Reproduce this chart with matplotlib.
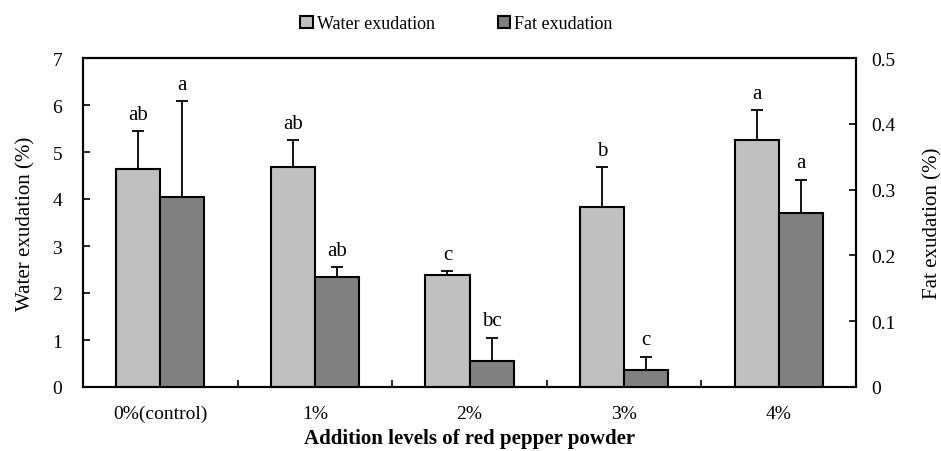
import numpy as np
import matplotlib
matplotlib.use('Agg')
import matplotlib.pyplot as plt
from matplotlib.ticker import FixedLocator

plt.rcParams['font.family'] = ['Liberation Serif', 'DejaVu Serif']

categories = ['0%(control)', '1%', '2%', '3%', '4%']
water = [4.64, 4.68, 2.38, 3.83, 5.26]
water_err = [0.81, 0.58, 0.09, 0.85, 0.63]
water_letters = ['ab', 'ab', 'c', 'b', 'a']
fat = [0.289, 0.167, 0.040, 0.026, 0.264]
fat_err = [0.146, 0.015, 0.035, 0.020, 0.051]
fat_letters = ['a', 'ab', 'bc', 'c', 'a']

fig = plt.figure(figsize=(9.41, 4.52), dpi=100)
ax = fig.add_axes([83 / 941, 1 - 388 / 452, 773 / 941, 329 / 452])
ax2 = ax.twinx()

x = np.arange(len(categories))
w = 0.285
ekw = dict(elinewidth=1.3, capsize=4, capthick=1.3, ecolor='black')

ax.bar(x - w / 2, water, w, color='#c0c0c0', edgecolor='black', linewidth=1.5,
       label='Water exudation', zorder=3)
ax.errorbar(x - w / 2, water, yerr=[np.zeros(5), water_err], fmt='none', zorder=2, **ekw)
ax2.bar(x + w / 2, fat, w, color='#808080', edgecolor='black', linewidth=1.5,
        label='Fat exudation', zorder=3)
ax2.errorbar(x + w / 2, fat, yerr=[np.zeros(5), fat_err], fmt='none', zorder=2, **ekw)

for i in range(len(categories)):
    ax.text(x[i] - w / 2, water[i] + water_err[i] + 0.15, water_letters[i],
            ha='center', va='bottom', fontsize=15)
    ax2.text(x[i] + w / 2, fat[i] + fat_err[i] + 0.011, fat_letters[i],
             ha='center', va='bottom', fontsize=15)

ax.set_xlim(-0.5, len(categories) - 0.5)
ax.set_ylim(0, 7)
ax2.set_ylim(0, 0.5)
ax.set_yticks(range(8))
ax2.set_yticks([0, 0.1, 0.2, 0.3, 0.4, 0.5])
ax2.set_yticklabels(['0', '0.1', '0.2', '0.3', '0.4', '0.5'])

ax.set_xticks(x)
ax.set_xticklabels(categories)
ax.tick_params(axis='x', which='major', length=0, pad=13, labelsize=14)
ax.xaxis.set_minor_locator(FixedLocator(x[:-1] + 0.5))
ax.tick_params(axis='x', which='minor', direction='in', length=5, width=1.2)
ax.tick_params(axis='y', direction='in', length=5, width=1.2, labelsize=14, pad=15)
ax2.tick_params(axis='y', direction='in', length=5, width=1.2, labelsize=14, pad=11)

for a in (ax, ax2):
    for s in a.spines.values():
        s.set_linewidth(1.5)

ax.set_xlabel('Addition levels of red pepper powder', fontsize=15, fontweight='bold', labelpad=4)
ax.set_ylabel('Water exudation (%)', fontsize=15, labelpad=12)
ax2.set_ylabel('Fat exudation (%)', fontsize=15, labelpad=20)

h1, l1 = ax.get_legend_handles_labels()
h2, l2 = ax2.get_legend_handles_labels()
fig.legend(h1 + h2, l1 + l2, loc='upper center', bbox_to_anchor=(0.485, 1.0), ncol=2,
           frameon=False, fontsize=13, handlelength=0.7, handleheight=0.7,
           handletextpad=0.2, columnspacing=3.5)

fig.savefig('out.png', dpi=100)
